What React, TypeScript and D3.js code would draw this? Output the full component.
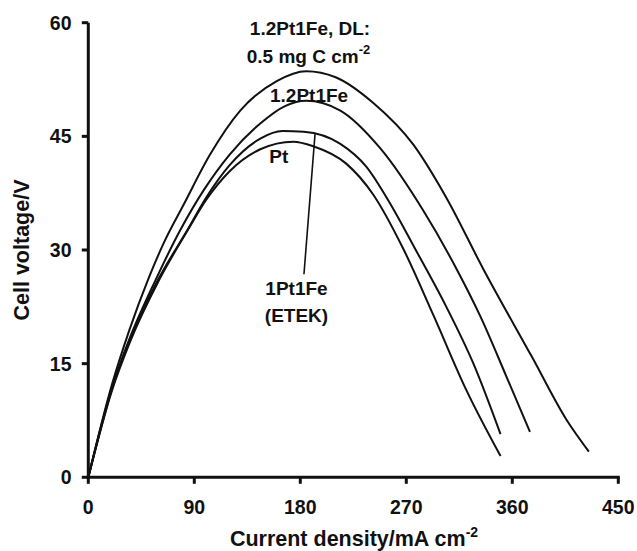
import React from "react";
import * as d3 from "d3";

// Current density (mA cm-2) and cell voltage (V) for each catalyst
const currentDL = [0, 20, 35, 51, 64, 81, 103, 129, 160, 185, 210, 242, 276, 304, 335, 377, 406, 425];
const voltageDL = [0, 12.2, 19.5, 26.2, 30.9, 36.0, 42.5, 48.4, 52.3, 53.6, 52.8, 49.4, 43.9, 36.9, 27.6, 15.8, 7.6, 3.4];

const current12 = [0, 20, 35, 57, 78, 98, 120, 146, 167, 185, 214, 248, 284, 313, 333, 355, 375];
const voltage12 = [0, 11.8, 18.3, 26.0, 32.6, 37.9, 42.6, 46.7, 49.0, 49.7, 48.4, 43.4, 35.3, 27.4, 21.2, 13.3, 6.0];

const currentETEK = [0, 20, 35, 59, 84, 100, 120, 146, 165, 183, 214, 236, 256, 277, 304, 327, 350];
const voltageETEK = [0, 11.6, 18.0, 26.0, 32.6, 36.9, 41.2, 44.7, 45.7, 45.6, 44.0, 41.0, 36.2, 30.3, 22.5, 15.0, 5.7];

const currentPt = [0, 20, 35, 60, 84, 100, 120, 146, 174, 191, 219, 242, 267, 293, 321, 350];
const voltagePt = [0, 11.4, 17.7, 26.0, 32.5, 36.6, 40.4, 43.3, 44.3, 43.7, 41.4, 37.3, 30.3, 21.4, 11.5, 2.8];

const xTicks = [0, 90, 180, 270, 360, 450];
const yTicks = [0, 15, 30, 45, 60];

// leader line for the 1Pt1Fe (ETEK) label, in data units
const leaderFrom = [192.5, 45.3];
const leaderTo = [183.1, 26.8];

const FONT = "'Liberation Sans', Arial, Helvetica, sans-serif";

export default function App() {
  const x = d3.scaleLinear().domain([0, 450]).range([88.3, 618.3]);
  const y = d3.scaleLinear().domain([0, 60]).range([477.3, 22.7]);

  const line = d3
    .line<[number, number]>()
    .x((d) => x(d[0]))
    .y((d) => y(d[1]))
    .curve(d3.curveMonotoneX);

  const series = [
    [currentDL, voltageDL],
    [current12, voltage12],
    [currentETEK, voltageETEK],
    [currentPt, voltagePt],
  ].map(([cs, vs]) => cs.map((c, i) => [c, vs[i]] as [number, number]));

  const x0 = x(0);
  const y0 = y(0);

  return (
    <svg
      width={637}
      height={551}
      style={{ position: "absolute", left: 0, top: 0, background: "#fff" }}
      fontFamily={FONT}
      fontWeight="bold"
    >
      <rect x={0} y={0} width={637} height={551} fill="#fff" />
      {/* curves */}
      {series.map((s, i) => (
        <path key={i} d={line(s) || ""} fill="none" stroke="#111" strokeWidth={2} />
      ))}
      {/* leader line */}
      <line
        x1={x(leaderFrom[0])}
        y1={y(leaderFrom[1])}
        x2={x(leaderTo[0])}
        y2={y(leaderTo[1])}
        stroke="#111"
        strokeWidth={1.6}
      />
      {/* axes */}
      <line x1={x0} y1={y(60)} x2={x0} y2={y0 + 1.5} stroke="#111" strokeWidth={3} />
      <line x1={x0 - 1.5} y1={y0} x2={x(450) + 1.5} y2={y0} stroke="#111" strokeWidth={3} />
      {yTicks.map((t) => (
        <g key={"y" + t}>
          <line x1={x0 - 6.5} x2={x0} y1={y(t)} y2={y(t)} stroke="#111" strokeWidth={3} />
          <text x={71.5} y={y(t) + 7} textAnchor="end" fontSize={19.5} fill="#111">
            {t}
          </text>
        </g>
      ))}
      {xTicks.map((t) => (
        <g key={"x" + t}>
          <line x1={x(t)} x2={x(t)} y1={y0} y2={y0 + 6.5} stroke="#111" strokeWidth={3} />
          <text x={x(t)} y={513.5} textAnchor="middle" fontSize={19.5} fill="#111">
            {t}
          </text>
        </g>
      ))}
      {/* axis titles */}
      <text x={354} y={546} textAnchor="middle" fontSize={21.5} fill="#111">
        Current density/mA cm
        <tspan fontSize={14} dy={-9}>-2</tspan>
      </text>
      <text
        transform={`translate(29, ${(y(0) + y(60)) / 2}) rotate(-90)`}
        textAnchor="middle"
        fontSize={21.5}
        fill="#111"
      >
        Cell voltage/V
      </text>
      {/* series labels */}
      <text x={310} y={35} textAnchor="middle" fontSize={19} fill="#111">
        1.2Pt1Fe, DL:
      </text>
      <text x={246.7} y={62.5} fontSize={19} fill="#111">
        0.5 mg C cm
        <tspan fontSize={13} dy={-9}>-2</tspan>
      </text>
      <text x={270} y={101.7} fontSize={19} fill="#111">
        1.2Pt1Fe
      </text>
      <text x={269.3} y={163.3} fontSize={19} fill="#111">
        Pt
      </text>
      <text x={296.5} y={295} textAnchor="middle" fontSize={19} fill="#111">
        1Pt1Fe
      </text>
      <text x={296.5} y={321.7} textAnchor="middle" fontSize={19} fill="#111">
        (ETEK)
      </text>
    </svg>
  );
}
